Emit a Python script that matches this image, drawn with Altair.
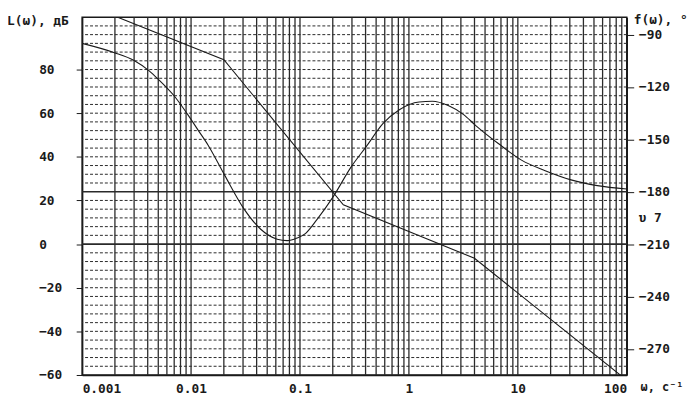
import altair as alt
import pandas as pd

# ---- data ----
# magnitude (asymptotic) L(w), dB
w_mag = [0.001, 0.02, 0.25, 4.0, 100.0]
L_mag = [110.5, 84.5, 18.0, -6.5, -62.4]

# phase f(w), degrees
w_ph = [0.001, 0.00195, 0.003, 0.0041, 0.005, 0.0071, 0.0094, 0.0116, 0.0143, 0.0202,
        0.0308, 0.0436, 0.0618, 0.0763, 0.094, 0.112, 0.143, 0.202, 0.297, 0.407,
        0.577, 0.817, 1.24, 1.64, 2.32, 3.18, 4.06, 6.62, 10.8, 17.6, 30.8, 53.7, 100.0]
f_ph = [-95.0, -100.2, -104.8, -110.6, -115.6, -125.6, -136.1, -144.7, -153.2, -170.2,
        -190.1, -201.5, -207.2, -208.0, -206.5, -204.0, -196.0, -182.8, -165.5, -154.0,
        -141.0, -133.0, -128.6, -128.2, -130.8, -135.8, -141.8, -152.4, -161.9, -167.8,
        -173.2, -176.5, -178.4]

x_ticks = [0.001, 0.01, 0.1, 1, 10, 100]
L_ticks = [80, 60, 40, 20, 0, -20, -40, -60]
f_ticks = [-90, -120, -150, -180, -210, -240, -270]

L_dom = [-60, 104]
f_dom = [-285, -80]

# grid positions
v_grid = [k * 10.0 ** n for n in range(-3, 2) for k in range(1, 10)][1:]
h_grid = [v for v in range(-56, 104, 4) if v not in (0, 24)]
h_solid = [0, 24]

FONT = "DejaVu Sans Mono"
FW = "bold"
INK = "#1a1a1a"

xs = alt.Scale(type="log", domain=[0.001, 100], nice=False)
ys = alt.Scale(domain=L_dom, nice=False, zero=False)
fs = alt.Scale(domain=f_dom, nice=False, zero=False)

x_axis = alt.Axis(values=x_ticks, labelExpr="'' + datum.value", ticks=False, tickSize=0,
                  labelPadding=8, grid=False, domainColor=INK, domainWidth=1.5,
                  labelFont=FONT, labelFontSize=13, labelFontWeight=FW, labelColor=INK)
L_axis = alt.Axis(values=L_ticks, orient="left", tickSize=6, labelAlign="left",
                  labelPadding=38, grid=False, domainColor=INK, domainWidth=1.5,
                  tickColor=INK, labelFont=FONT, labelFontSize=13, labelFontWeight=FW,
                  labelColor=INK)
f_axis = alt.Axis(values=f_ticks, orient="right", tickSize=7, labelAlign="left",
                  labelPadding=5, grid=False, domainColor=INK, domainWidth=1.5,
                  tickColor=INK, labelFont=FONT, labelFontSize=13, labelFontWeight=FW,
                  labelColor=INK)

X = alt.X("w:Q", scale=xs, title=None, axis=x_axis)

vgrid = alt.Chart(pd.DataFrame({"w": v_grid})).mark_rule(
    color="#2a2a2a", strokeWidth=1.3
).encode(x=X)

hgrid = alt.Chart(pd.DataFrame({"L": h_grid})).mark_rule(
    color="#2a2a2a", strokeWidth=1, strokeDash=[3, 2]
).encode(y=alt.Y("L:Q", scale=ys, title=None, axis=L_axis))

hsolid = alt.Chart(pd.DataFrame({"L": h_solid})).mark_rule(
    color="#2a2a2a", strokeWidth=1.6
).encode(y=alt.Y("L:Q", scale=ys, title=None, axis=L_axis))

mag = alt.Chart(pd.DataFrame({"w": w_mag, "L": L_mag})).mark_line(
    color=INK, strokeWidth=1.1, clip=True
).encode(
    x=X,
    y=alt.Y("L:Q", scale=ys, title=None, axis=L_axis),
)

left = alt.layer(vgrid, hgrid, hsolid, mag)

phase = alt.Chart(pd.DataFrame({"w": w_ph, "f": f_ph})).mark_line(
    color=INK, strokeWidth=1.1, interpolate="monotone", clip=True
).encode(
    x=X,
    y=alt.Y("f:Q", scale=fs, title=None, axis=f_axis),
)

one = pd.DataFrame({"a": [0]})


def label(txt, x, y, size=13):
    return alt.Chart(one).mark_text(
        text=txt, font=FONT, fontSize=size, fontWeight=FW, color=INK,
        align="left", baseline="middle"
    ).encode(x=alt.value(x), y=alt.value(y))


texts = [
    label("L(ω), дБ", -76, 4),
    label("f(ω), °", 558, 3),
    label("υ 7", 563, 203),
    label("ω, c⁻¹", 565, 374, 12),
]

chart = alt.layer(left, phase, *texts).resolve_scale(y="independent").properties(
    width=551, height=362,
    padding={"left": 75, "top": 7, "right": 66, "bottom": 22},
    autosize=alt.AutoSizeParams(type="none"),
    background="white",
).configure_view(
    stroke=INK, strokeWidth=1.5
)

chart.save("out.html", embed_options={"renderer": "svg", "actions": False})
